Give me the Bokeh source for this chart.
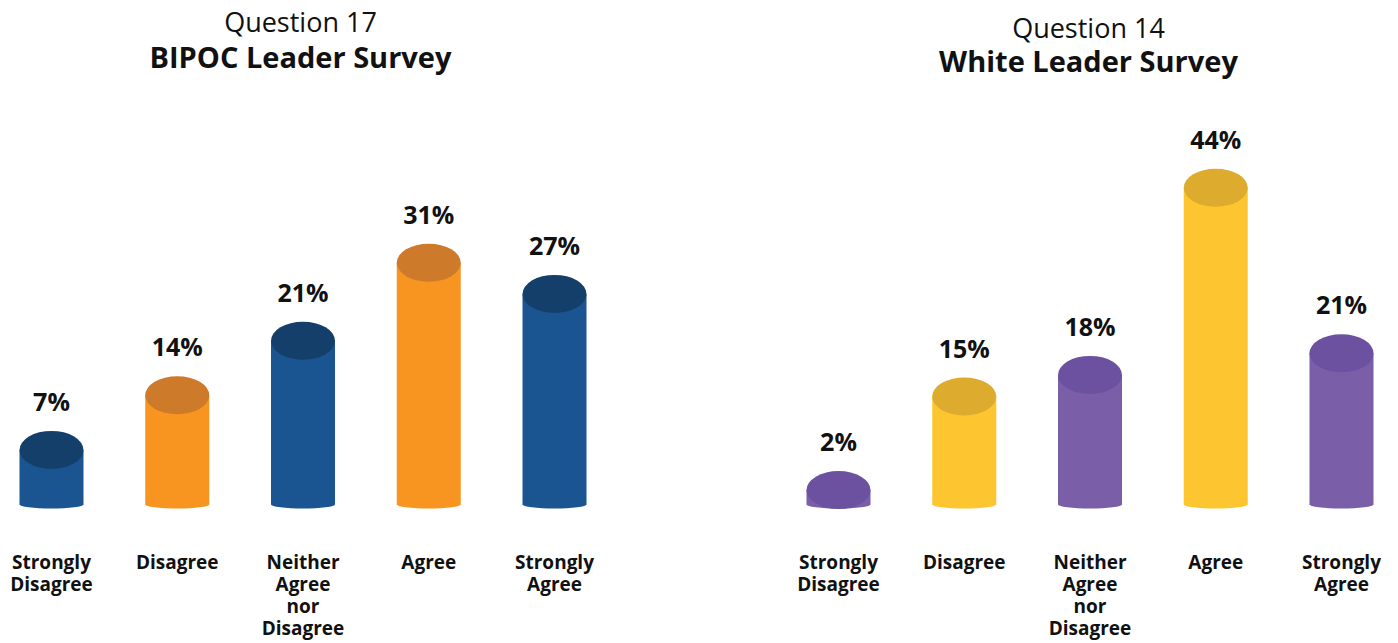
from bokeh.plotting import figure
from bokeh.layouts import row
from bokeh.models import ColumnDataSource, Label, Range1d
from bokeh.core.properties import value
from bokeh.embed import file_html
from bokeh.resources import INLINE

# ---- data ----
categories = ["Strongly\nDisagree", "Disagree", "Neither\nAgree\nnor\nDisagree", "Agree", "Strongly\nAgree"]
bipoc_values = [7, 14, 21, 31, 27]
white_values = [2, 15, 18, 44, 21]
bipoc_titles = ["Question 17", "BIPOC Leader Survey"]
white_titles = ["Question 14", "White Leader Survey"]

# ---- styles ----
BLUE, BLUE_TOP = "#1A5592", "#143F6B"
ORANGE, ORANGE_TOP = "#F79520", "#CD7A2A"
PURPLE, PURPLE_TOP = "#7A5EA8", "#6B51A0"
YELLOW, YELLOW_TOP = "#FDC52F", "#DDAC2E"
FONT = "Open Sans"
TXT = "#111111"

W, H = 699, 643


def panel(vals, bodies, tops, titles, x_start, x_end, y_start, y_end, title_x, title_y1, title_y2):
    p = figure(width=W, height=H, output_backend="svg", toolbar_location=None,
               x_range=Range1d(x_start, x_end), y_range=Range1d(y_start, y_end),
               min_border=0, outline_line_color=None,
               background_fill_color=None, border_fill_color=None)
    p.axis.visible = False
    p.grid.visible = False
    xs = list(range(len(vals)))
    src = ColumnDataSource(dict(
        x=xs, v=vals, mid=[v / 2 for v in vals], zero=[0] * len(vals),
        body=bodies, top=tops, lab=[f"{v}%" for v in vals], cat=categories))
    p.ellipse(x="x", y="zero", width=64, height=8, width_units="screen", height_units="screen",
              fill_color="body", line_color=None, source=src)
    p.rect(x="x", y="mid", width=64, width_units="screen", height="v",
           fill_color="body", line_color=None, source=src)
    p.ellipse(x="x", y="v", width=64, height=38, width_units="screen", height_units="screen",
              fill_color="top", line_color=None, source=src)
    p.text(x="x", y="v", text="lab", text_align="center", text_baseline="alphabetic",
           y_offset=-49, text_font=value(FONT), text_font_style="bold",
           text_font_size="25px", text_color=TXT, source=src)
    p.text(x="x", y="zero", text="cat", text_align="center", text_baseline="top",
           y_offset=44, text_font=value(FONT), text_font_style="bold",
           text_font_size="19px", text_line_height=0.85, text_color=TXT, source=src)
    p.add_layout(Label(x=title_x, y=H - title_y1, x_units="screen", y_units="screen",
                       text=titles[0], text_align="center", text_baseline="alphabetic",
                       text_font=FONT, text_font_size="27px", text_color=TXT))
    p.add_layout(Label(x=title_x, y=H - title_y2, x_units="screen", y_units="screen",
                       text=titles[1], text_align="center", text_baseline="alphabetic",
                       text_font=FONT, text_font_style="bold", text_font_size="29px",
                       text_color=TXT))
    return p


SP = 125.75
left = panel(bipoc_values, [BLUE, ORANGE, BLUE, ORANGE, BLUE],
             [BLUE_TOP, ORANGE_TOP, BLUE_TOP, ORANGE_TOP, BLUE_TOP], bipoc_titles,
             -51 / SP, (W - 51) / SP, -(H - 504) / 7.8, 504 / 7.8, 300, 21, 56)
right = panel(white_values, [PURPLE, YELLOW, PURPLE, YELLOW, PURPLE],
              [PURPLE_TOP, YELLOW_TOP, PURPLE_TOP, YELLOW_TOP, PURPLE_TOP], white_titles,
              -139 / SP, (W - 139) / SP, -(H - 504) / 7.2, 504 / 7.2, 389, 27, 60)

layout = row(left, right, spacing=0)
open("out.html", "w").write(file_html(layout, INLINE))
